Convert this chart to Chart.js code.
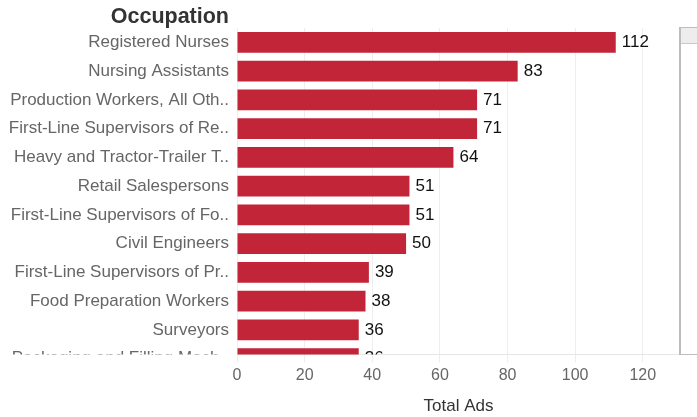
<!DOCTYPE html>
<html>
<head>
<meta charset="utf-8">
<script src="https://cdn.jsdelivr.net/npm/chart.js@4"></script>
<style>
  html, body { margin: 0; padding: 0; background: #fff; overflow: hidden; }
  #wrap { position: relative; width: 697px; height: 417px; }
  #scroll { position: absolute; left: 679px; top: 27px; width: 30px; height: 326px;
            border-left: 2px solid #bdbdbd; border-top: 1px solid #bdbdbd; border-bottom: 1px solid #bdbdbd; }
  #thumb { height: 15px; background: #ededed; border-bottom: 1px solid #c8c8c8; }
</style>
</head>
<body>
<div id="wrap">
  <canvas id="c"></canvas>
  <div id="scroll"><div id="thumb"></div></div>
</div>
<script>
const categories = [
  "Registered Nurses",
  "Nursing Assistants",
  "Production Workers, All Oth..",
  "First-Line Supervisors of Re..",
  "Heavy and Tractor-Trailer T..",
  "Retail Salespersons",
  "First-Line Supervisors of Fo..",
  "Civil Engineers",
  "First-Line Supervisors of Pr..",
  "Food Preparation Workers",
  "Surveyors",
  "Packaging and Filling Mach.."
];
const totalAds = [112, 83, 71, 71, 64, 51, 51, 50, 39, 38, 36, 36];
const xTicks = [0, 20, 40, 60, 80, 100, 120];
const yAxisTitle = "Occupation";
const xAxisTitle = "Total Ads";

const FONT = "'Liberation Sans', Arial, sans-serif";

const extras = {
  id: 'extras',
  afterDatasetsDraw(chart) {
    const ctx = chart.ctx;
    const area = chart.chartArea;
    const meta = chart.getDatasetMeta(0);
    ctx.save();
    ctx.beginPath();
    ctx.rect(0, 0, chart.width, area.bottom);
    ctx.clip();
    ctx.font = "17px " + FONT;
    ctx.fillStyle = "#111";
    ctx.textAlign = "left";
    ctx.textBaseline = "middle";
    meta.data.forEach((bar, i) => {
      ctx.fillText(String(totalAds[i]), bar.x + 6, bar.y);
    });
    // labels for categories scrolled below the visible area
    const y = chart.scales.y;
    ctx.fillStyle = "#666";
    ctx.textAlign = "right";
    categories.forEach((name, i) => {
      if (i > y.max) {
        ctx.fillText(name, area.left - 8, y.getPixelForValue(i));
      }
    });
    ctx.restore();

    ctx.save();
    ctx.font = "bold 21.5px " + FONT;
    ctx.fillStyle = "#333";
    ctx.textAlign = "right";
    ctx.textBaseline = "middle";
    ctx.fillText(yAxisTitle, area.left - 8, area.top - 11);
    ctx.restore();
  }
};

new Chart(document.getElementById('c'), {
  type: 'bar',
  data: {
    datasets: [{
      data: totalAds.map((v, i) => ({ x: v, y: i })),
      backgroundColor: '#c22538',
      borderWidth: 0,
      barPercentage: 0.9,
      categoryPercentage: 0.8
    }]
  },
  options: {
    indexAxis: 'y',
    responsive: true,
    maintainAspectRatio: false,
    animation: false,
    devicePixelRatio: 1,
    layout: { padding: { left: 0, right: 17, top: 28, bottom: 0 } },
    plugins: { legend: { display: false }, tooltip: { enabled: false } },
    scales: {
      x: {
        type: 'linear',
        position: 'bottom',
        min: 0,
        max: 131,
        afterBuildTicks(scale) { scale.ticks = xTicks.map(v => ({ value: v })); },
        ticks: { color: '#666', font: { family: FONT, size: 16 }, padding: 4, includeBounds: false },
        grid: { color: '#eeeeee', tickColor: '#eeeeee', tickLength: 8 },
        border: { display: true, color: '#e6e6e6' },
        title: { display: true, text: xAxisTitle, color: '#333', font: { family: FONT, size: 17 }, padding: { top: 7, bottom: 0 } }
      },
      y: {
        type: 'linear',
        reverse: true,
        offset: false,
        bounds: 'data',
        min: -0.5,
        max: 10.85,
        afterBuildTicks(scale) {
          scale.ticks = categories.map((c, i) => ({ value: i })).filter(t => t.value <= 10.85);
        },
        afterFit(scale) { scale.width = 237; },
        ticks: {
          autoSkip: false,
          color: '#666',
          font: { family: FONT, size: 17 },
          padding: 8,
          callback: (v) => categories[v] ?? ''
        },
        grid: { display: false, drawTicks: false, offset: false },
        border: { display: false }
      }
    }
  },
  plugins: [extras]
});
</script>
</body>
</html>
